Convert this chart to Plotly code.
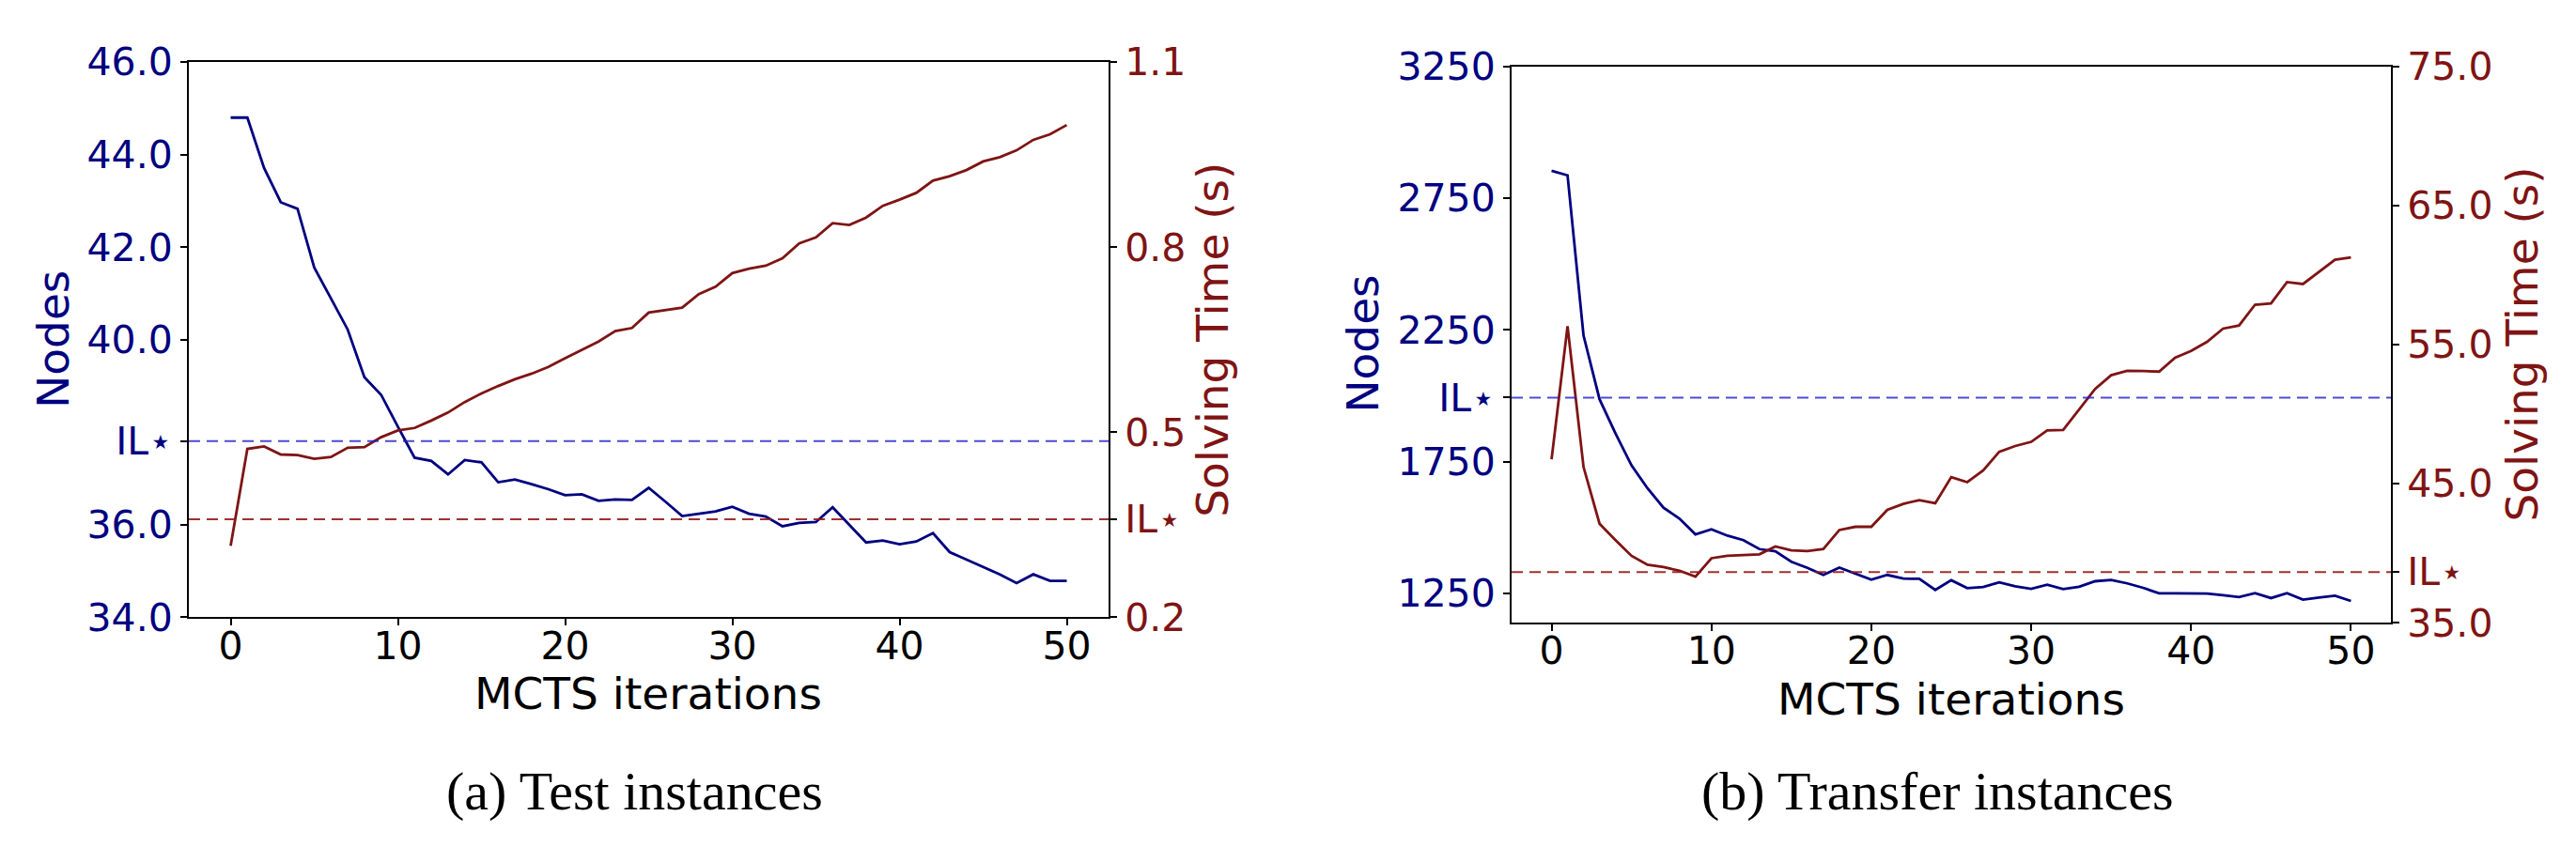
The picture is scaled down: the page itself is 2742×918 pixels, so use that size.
import plotly.graph_objects as go

# ---- data ----
iterations = list(range(51))

# (a) Test instances
test_nodes = [44.80, 44.80, 43.71, 42.97, 42.83, 41.56, 40.89, 40.22, 39.19, 38.81,
              38.12, 37.45, 37.38, 37.09, 37.40, 37.35, 36.92, 36.98, 36.88, 36.77,
              36.64, 36.66, 36.52, 36.55, 36.54, 36.80, 36.50, 36.19, 36.24, 36.29,
              36.39, 36.24, 36.18, 35.97, 36.04, 36.06, 36.38, 36.01, 35.62, 35.66,
              35.58, 35.64, 35.82, 35.41, 35.25, 35.09, 34.93, 34.74, 34.93, 34.79,
              34.79]
test_time = [0.316, 0.473, 0.477, 0.464, 0.463, 0.457, 0.460, 0.475, 0.476, 0.492,
             0.503, 0.507, 0.519, 0.532, 0.549, 0.563, 0.575, 0.586, 0.595, 0.606,
             0.620, 0.634, 0.647, 0.664, 0.669, 0.694, 0.698, 0.702, 0.724, 0.736,
             0.758, 0.765, 0.770, 0.782, 0.806, 0.816, 0.839, 0.836, 0.848, 0.867,
             0.877, 0.888, 0.908, 0.915, 0.925, 0.939, 0.946, 0.957, 0.974, 0.983,
             0.998]
test_il_nodes = 37.81
test_il_time = 0.359

# (b) Transfer instances
transfer_nodes = [2854, 2837, 2229, 1987, 1857, 1736, 1649, 1575, 1534, 1474,
                  1493, 1469, 1452, 1418, 1410, 1370, 1347, 1320, 1348, 1324,
                  1302, 1320, 1306, 1305, 1263, 1300, 1270, 1274, 1292, 1277,
                  1267, 1283, 1266, 1275, 1296, 1301, 1288, 1271, 1250, 1250,
                  1250, 1249, 1243, 1236, 1251, 1232, 1251, 1226, 1234, 1241,
                  1221]
transfer_time = [46.75, 56.33, 46.20, 42.12, 40.94, 39.81, 39.17, 39.00, 38.74, 38.31,
                 39.64, 39.81, 39.87, 39.92, 40.49, 40.20, 40.15, 40.30, 41.67, 41.90,
                 41.90, 43.12, 43.55, 43.82, 43.59, 45.47, 45.11, 45.96, 47.29, 47.71,
                 48.01, 48.83, 48.87, 50.38, 51.81, 52.80, 53.12, 53.10, 53.06, 54.06,
                 54.55, 55.20, 56.15, 56.37, 57.87, 57.97, 59.50, 59.36, 60.21, 61.11,
                 61.28]
transfer_il_nodes = 1993
transfer_il_time = 38.65

x_ticks = [0, 10, 20, 30, 40, 50]
test_node_ticks = [34, 36, 40, 42, 44, 46]
test_time_ticks = [0.2, 0.5, 0.8, 1.1]
transfer_node_ticks = [1250, 1750, 2250, 2750, 3250]
transfer_time_ticks = [35, 45, 55, 65, 75]

captions = ["(a) Test instances", "(b) Transfer instances"]
IL = "IL⋆"

# ---- style ----
W, H = 2742, 918
BLUE = "#000080"
RED = "#7f1414"
BLUE_DASH = "rgba(30,30,200,0.8)"
RED_DASH = "rgba(150,25,25,0.9)"
FONT = "DejaVu Sans"
TICK_SIZE = 41
TITLE_SIZE = 47
LW = 2.8


def fx(px):
    return px / W


def fy(py):
    return 1 - py / H


def ticks_with_il(vals, il, fmt):
    pairs = sorted([(v, fmt.format(v)) for v in vals] + [(il, IL)])
    return [p[0] for p in pairs], [p[1] for p in pairs]


fig = go.Figure()

fig.add_trace(go.Scatter(x=iterations, y=test_nodes, mode="lines",
                         line=dict(color=BLUE, width=LW), xaxis="x", yaxis="y"))
fig.add_trace(go.Scatter(x=iterations, y=test_time, mode="lines",
                         line=dict(color=RED, width=LW), xaxis="x", yaxis="y2"))
fig.add_trace(go.Scatter(x=iterations, y=transfer_nodes, mode="lines",
                         line=dict(color=BLUE, width=LW), xaxis="x2", yaxis="y3"))
fig.add_trace(go.Scatter(x=iterations, y=transfer_time, mode="lines",
                         line=dict(color=RED, width=LW), xaxis="x2", yaxis="y4"))

# IL* reference lines
for xr, yr, val, col in [("x", "y", test_il_nodes, BLUE_DASH),
                         ("x", "y2", test_il_time, RED_DASH),
                         ("x2", "y3", transfer_il_nodes, BLUE_DASH),
                         ("x2", "y4", transfer_il_time, RED_DASH)]:
    fig.add_shape(type="line", xref=xr + " domain", yref=yr, x0=0, x1=1, y0=val, y1=val,
                  line=dict(color=col, width=2, dash="12px,7px"))

axis_common = dict(showgrid=False, zeroline=False, showline=True, linecolor="black",
                   linewidth=2, ticks="outside", ticklen=7, tickwidth=2, tickcolor="black")

tv1, tt1 = ticks_with_il(test_node_ticks, test_il_nodes, "{:.1f}")
tv2, tt2 = ticks_with_il(test_time_ticks, test_il_time, "{:.1f}")
tv3, tt3 = ticks_with_il(transfer_node_ticks, transfer_il_nodes, "{:d}")
tv4, tt4 = ticks_with_il(transfer_time_ticks, transfer_il_time, "{:.1f}")

fig.update_layout(
    width=W, height=H,
    margin=dict(l=0, r=0, t=0, b=0, pad=0),
    paper_bgcolor="white", plot_bgcolor="white",
    showlegend=False,
    xaxis=dict(domain=[fx(193), fx(1172)], range=[-2.5, 52.5], tickvals=x_ticks,
               mirror=True, tickfont=dict(family=FONT, size=TICK_SIZE, color="black"),
               ticklabelstandoff=-14, anchor="y", **axis_common),
    yaxis=dict(domain=[fy(660), fy(36)], range=[34, 46], tickvals=tv1, ticktext=tt1,
               tickfont=dict(family=FONT, size=TICK_SIZE, color=BLUE),
               anchor="x", **axis_common),
    yaxis2=dict(overlaying="y", side="right", range=[0.2, 1.1], tickvals=tv2, ticktext=tt2,
                tickfont=dict(family=FONT, size=TICK_SIZE, color=RED),
                anchor="x", **axis_common),
    xaxis2=dict(domain=[fx(1601), fx(2537)], range=[-2.5, 52.5], tickvals=x_ticks,
                mirror=True, tickfont=dict(family=FONT, size=TICK_SIZE, color="black"),
                ticklabelstandoff=-14, anchor="y3", **axis_common),
    yaxis3=dict(domain=[fy(666), fy(41)], range=[1138.5, 3250], tickvals=tv3, ticktext=tt3,
                tickfont=dict(family=FONT, size=TICK_SIZE, color=BLUE),
                anchor="x2", **axis_common),
    yaxis4=dict(overlaying="y3", side="right", range=[35, 75], tickvals=tv4, ticktext=tt4,
                tickfont=dict(family=FONT, size=TICK_SIZE, color=RED),
                anchor="x2", **axis_common),
)

# axis titles and captions as annotations (pixel positions from the reference)
notes = [
    ("Nodes", 49, 348, -90, BLUE, FONT, TITLE_SIZE),
    ("Solving Time (s)", 1283, 348, -90, RED, FONT, TITLE_SIZE),
    ("MCTS iterations", 682, 746, 0, "black", FONT, TITLE_SIZE),
    ("Nodes", 1443, 353, -90, BLUE, FONT, TITLE_SIZE),
    ("Solving Time (s)", 2677, 353, -90, RED, FONT, TITLE_SIZE),
    ("MCTS iterations", 2069, 752, 0, "black", FONT, TITLE_SIZE),
    (captions[0], 667, 855, 0, "black", "Liberation Serif", 58),
    (captions[1], 2054, 855, 0, "black", "Liberation Serif", 58),
]
for text, px, py, ang, col, fam, size in notes:
    fig.add_annotation(text=text, xref="paper", yref="paper", x=fx(px), y=fy(py),
                       xanchor="center", yanchor="middle", textangle=ang, showarrow=False,
                       font=dict(family=fam, size=size, color=col))

fig.write_html("out.html")
